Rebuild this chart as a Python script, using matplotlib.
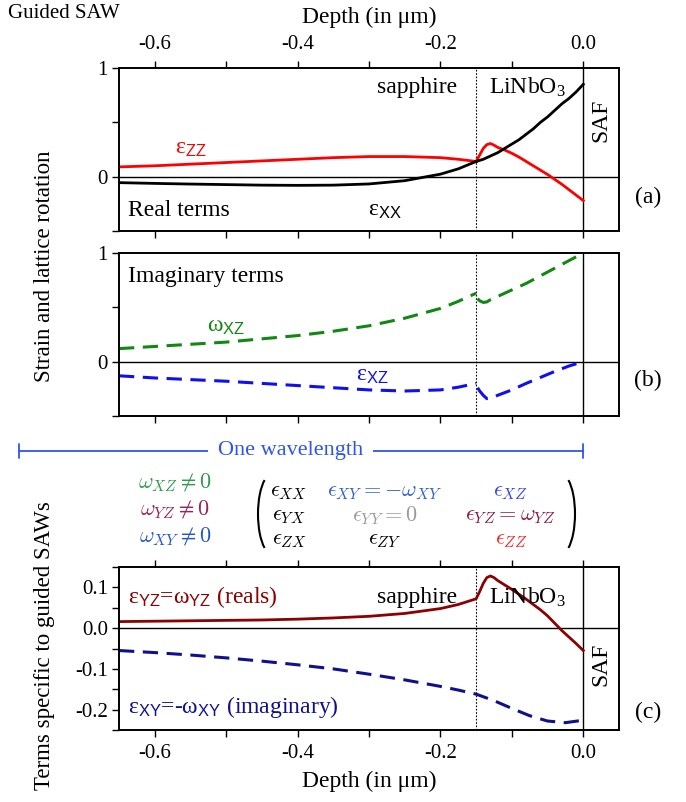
import matplotlib
matplotlib.use("Agg")
import numpy as np
import matplotlib.pyplot as plt
from matplotlib.patches import Arc
from matplotlib.ticker import FixedLocator
import matplotlib.transforms as mtransforms

plt.rcParams['font.family'] = ['Liberation Serif', 'DejaVu Serif']
plt.rcParams['mathtext.fontset'] = 'custom'
plt.rcParams['mathtext.rm'] = 'Liberation Serif'
plt.rcParams['mathtext.it'] = 'Liberation Serif:italic'
plt.rcParams['mathtext.sf'] = 'Liberation Sans'
plt.rcParams['font.size'] = 17

# ---- data (depth in um) ----
# panel (a) real terms
d_sap = [-0.65, -0.6, -0.55, -0.5, -0.45, -0.4, -0.35, -0.3, -0.25, -0.2, -0.175, -0.15]
d_lnb = [-0.15, -0.145, -0.14, -0.135, -0.13, -0.125, -0.12, -0.11, -0.1, -0.09, -0.08,
         -0.07, -0.06, -0.05, -0.04, -0.03, -0.02, -0.01, 0.0]
exx_sap = [-0.055, -0.062, -0.068, -0.073, -0.078, -0.08, -0.078, -0.067, -0.037, 0.023, 0.072, 0.14]
exx_lnb = [0.14, 0.15, 0.16, 0.175, 0.19, 0.205, 0.22, 0.26, 0.3, 0.34, 0.39,
           0.44, 0.5, 0.55, 0.61, 0.67, 0.72, 0.78, 0.85]
ezz_sap = [0.09, 0.1, 0.115, 0.13, 0.145, 0.16, 0.175, 0.185, 0.185, 0.175, 0.16, 0.14]
ezz_lnb = [0.14, 0.2, 0.26, 0.295, 0.305, 0.29, 0.27, 0.245, 0.215, 0.18, 0.14,
           0.1, 0.06, 0.02, -0.025, -0.07, -0.12, -0.17, -0.22]

# panel (b) imaginary terms
d_lnb_b = [-0.148, -0.145, -0.14, -0.135, -0.13, -0.12, -0.1, -0.08, -0.06, -0.04, -0.02, 0.0]
wxz_sap = [0.12, 0.14, 0.16, 0.18, 0.21, 0.24, 0.28, 0.33, 0.4, 0.49, 0.555, 0.63]
wxz_lnb = [0.58, 0.56, 0.545, 0.55, 0.57, 0.6, 0.66, 0.72, 0.79, 0.86, 0.93, 1.0]
exz_sap = [-0.13, -0.15, -0.165, -0.18, -0.2, -0.22, -0.24, -0.26, -0.27, -0.26, -0.235, -0.2]
exz_lnb = [-0.24, -0.27, -0.31, -0.34, -0.335, -0.31, -0.26, -0.2, -0.145, -0.09, -0.04, 0.0]

# panel (c) terms specific to guided SAWs
d_c = [-0.65, -0.6, -0.55, -0.5, -0.45, -0.4, -0.35, -0.3, -0.25, -0.2, -0.175, -0.15,
       -0.145, -0.14, -0.135, -0.13, -0.125, -0.12, -0.11, -0.1, -0.09, -0.08, -0.07,
       -0.06, -0.05, -0.04, -0.03, -0.02, -0.01, 0.0]
eyz = [0.016, 0.017, 0.018, 0.019, 0.02, 0.022, 0.025, 0.029, 0.036, 0.048, 0.058, 0.072,
       0.09, 0.11, 0.124, 0.128, 0.124, 0.117, 0.106, 0.095, 0.083, 0.071, 0.058,
       0.045, 0.03, 0.012, -0.006, -0.022, -0.038, -0.055]
d_xy = [-0.65, -0.6, -0.55, -0.5, -0.45, -0.4, -0.35, -0.3, -0.25, -0.2, -0.175, -0.15,
        -0.125, -0.1, -0.075, -0.05, -0.025, 0.0]
exy = [-0.055, -0.06, -0.066, -0.073, -0.081, -0.09, -0.1, -0.113, -0.127, -0.143, -0.152, -0.162,
       -0.178, -0.197, -0.215, -0.228, -0.232, -0.226]

interface = -0.15
DASH = (0, (5, 2.8))
TICK_FS = 15

fig = plt.figure(figsize=(6.86, 8.02), dpi=100)
W, H = 686, 802
L, AW, AH = 119 / W, 500 / W, 163 / H
ax_a = fig.add_axes([L, 1 - 231 / H, AW, AH])
ax_b = fig.add_axes([L, 1 - 416 / H, AW, AH])
ax_c = fig.add_axes([L, 1 - 730 / H, AW, AH])

fmt1 = plt.FuncFormatter(lambda v, p: f"{v:.1f}" if abs(v) > 1e-9 else "0.0")


def style(ax, top=False, bottom=False, labeltop=False, labelbottom=False):
    ax.set_xlim(-0.65, 0.05)
    ax.xaxis.set_major_locator(FixedLocator([-0.6, -0.4, -0.2, 0.0]))
    ax.xaxis.set_minor_locator(FixedLocator([-0.5, -0.3, -0.1]))
    ax.xaxis.set_major_formatter(fmt1)
    ax.tick_params(axis='x', which='both', direction='out', length=5, width=1,
                   top=top, bottom=bottom, labeltop=labeltop, labelbottom=labelbottom,
                   labelsize=TICK_FS, pad=5)
    ax.tick_params(axis='y', which='both', direction='out', length=5, width=1,
                   left=True, right=False, labelsize=TICK_FS, pad=3)
    for s in ax.spines.values():
        s.set_linewidth(1.4)
    ax.axhline(0, color='black', lw=1)
    ax.axvline(0, color='black', lw=1)
    ax.axvline(interface, color='black', lw=0.8, ls=(0, (1.5, 1.5)))


# ---- panel (a) ----
style(ax_a, top=True, bottom=True, labeltop=True)
ax_a.set_ylim(-0.5, 1)
ax_a.yaxis.set_major_locator(FixedLocator([0, 1]))
ax_a.yaxis.set_minor_locator(FixedLocator([-0.5, 0.5]))
ax_a.plot(d_sap, ezz_sap, color='#ff0000', lw=2)
ax_a.plot(d_lnb, ezz_lnb, color='#ff0000', lw=2)
ax_a.plot(d_sap, exx_sap, color='black', lw=2)
ax_a.plot(d_lnb, exx_lnb, color='black', lw=2)
ax_a.xaxis.set_label_position('top')
ax_a.set_xlabel('Depth (in μm)', fontsize=17, labelpad=9)
ax_a.text(-0.638, -0.31, 'Real terms', fontsize=17, va='center', ha='left')
ax_a.text(-0.278, -0.31, 'ε$_\\mathsf{XX}$', fontsize=17, va='center', ha='center')
ax_a.text(-0.55, 0.26, 'ε$_\\mathsf{ZZ}$', fontsize=17, va='center', ha='center', color='#ff0000')
ax_a.text(-0.177, 0.82, 'sapphire', fontsize=17, va='center', ha='right')
ax_a.text(-0.132, 0.82, 'LiNbO$_3$', fontsize=17, va='center', ha='left')
ax_a.text(0.025, 0.52, 'SAF', fontsize=17, va='center', ha='center', rotation=90)

# ---- panel (b) ----
style(ax_b, bottom=True)
ax_b.set_ylim(-0.5, 1)
ax_b.yaxis.set_major_locator(FixedLocator([0, 1]))
ax_b.yaxis.set_minor_locator(FixedLocator([-0.5, 0.5]))
ax_b.plot(d_sap, wxz_sap, color='#118811', lw=2.2, ls=DASH)
ax_b.plot(d_lnb_b, wxz_lnb, color='#118811', lw=2.2, ls=DASH)
ax_b.plot(d_sap, exz_sap, color='#1010ee', lw=2.2, ls=DASH)
ax_b.plot(d_lnb_b, exz_lnb, color='#1010ee', lw=2.2, ls=DASH)
ax_b.text(-0.638, 0.78, 'Imaginary terms', fontsize=17, va='center', ha='left')
ax_b.text(-0.5, 0.32, 'ω$_\\mathsf{XZ}$', fontsize=17, va='center', ha='center', color='#118811')
ax_b.text(-0.296, -0.13, 'ε$_\\mathsf{XZ}$', fontsize=17, va='center', ha='center', color='#1010ee')

# ---- panel (c) ----
style(ax_c, top=True, bottom=True, labelbottom=True)
ax_c.set_ylim(-0.25, 0.15)
ax_c.yaxis.set_major_locator(FixedLocator([-0.2, -0.1, 0.0, 0.1]))
ax_c.yaxis.set_minor_locator(FixedLocator([-0.25, -0.15, -0.05, 0.05, 0.15]))
ax_c.yaxis.set_major_formatter(fmt1)
ax_c.plot(d_c, eyz, color='#8b0000', lw=2)
ax_c.plot(d_xy, exy, color='#10108f', lw=2.2, ls=DASH)
ax_c.set_xlabel('Depth (in μm)', fontsize=17, labelpad=6)
ax_c.text(-0.638, 0.076, 'ε$_\\mathsf{YZ}$=ω$_\\mathsf{YZ}$ (reals)', fontsize=17,
          va='center', ha='left', color='#8b0000')
ax_c.text(-0.638, -0.194, 'ε$_\\mathsf{XY}$=-ω$_\\mathsf{XY}$ (imaginary)', fontsize=17,
          va='center', ha='left', color='#10108f')
ax_c.text(-0.177, 0.076, 'sapphire', fontsize=17, va='center', ha='right')
ax_c.text(-0.132, 0.076, 'LiNbO$_3$', fontsize=17, va='center', ha='left')
ax_c.text(0.025, -0.09, 'SAF', fontsize=17, va='center', ha='center', rotation=90)

# ---- figure texts ----
fig.text(8 / W, 1 - 13 / H, 'Guided SAW', fontsize=15, va='center', ha='left')
fig.text(45 / W, 1 - 266 / H, 'Strain and lattice rotation', fontsize=16.5,
         va='center', ha='center', rotation=90)
fig.text(45 / W, 1 - 646 / H, 'Terms specific to guided SAWs', fontsize=16.5,
         va='center', ha='center', rotation=90)
for lab, y in [('(a)', 197), ('(b)', 380), ('(c)', 712)]:
    fig.text(648 / W, 1 - y / H, lab, fontsize=17, va='center', ha='center')

# one wavelength bar
wl_col = '#2f55f0'
tr = mtransforms.blended_transform_factory(ax_c.transData, fig.transFigure)
y_wl = 1 - 451 / H
ax_c.annotate('', xy=(-0.79, y_wl), xytext=(0.0, y_wl), xycoords=tr, textcoords=tr,
              arrowprops=dict(arrowstyle='|-|, widthA=0.3, widthB=0.3', color=wl_col, lw=1.3,
                              shrinkA=0, shrinkB=0), annotation_clip=False)
ax_c.text(-0.41, y_wl, 'One wavelength', transform=tr, fontsize=16, color=wl_col,
          va='center', ha='center', bbox=dict(facecolor='white', edgecolor='none', pad=7),
          clip_on=False)

# tensor matrix
mfs = 16
left_col = [(r'$\omega_{XZ} \neq 0$', '#2e9a4a', 483),
            (r'$\omega_{YZ} \neq 0$', '#99225a', 510),
            (r'$\omega_{XY} \neq 0$', '#2255cc', 537)]
for s, c, y in left_col:
    fig.text(175 / W, 1 - y / H, s, fontsize=mfs, color=c, ha='center', va='center',
             math_fontfamily='cm')

cells = [(r'$\epsilon_{XX}$', 'black', 289, 493),
         (r'$\epsilon_{XY} = -\omega_{XY}$', '#3060d0', 385, 493),
         (r'$\epsilon_{XZ}$', '#3344ee', 511, 493),
         (r'$\epsilon_{YX}$', 'black', 289, 516),
         (r'$\epsilon_{YY} = 0$', '#9a9a9a', 385, 516),
         (r'$\epsilon_{YZ} = \omega_{YZ}$', '#8b1a4a', 511, 516),
         (r'$\epsilon_{ZX}$', 'black', 289, 540),
         (r'$\epsilon_{ZY}$', 'black', 385, 540),
         (r'$\epsilon_{ZZ}$', '#ff2020', 511, 540)]
for s, c, x, y in cells:
    fig.text(x / W, 1 - y / H, s, fontsize=mfs, color=c, ha='center', va='center',
             math_fontfamily='cm')

# parentheses (Arc angles are polar, convert from the wanted parametric span)
pw, ph = 28 / W, 80 / H
p = np.radians(58)
th = np.degrees(np.arctan2(np.sin(p) * ph, np.cos(p) * pw))
for cx, t1, t2 in [(272, 180 - th, 180 + th), (561, -th, th)]:
    fig.add_artist(Arc((cx / W, 1 - 514 / H), pw, ph, theta1=t1, theta2=t2,
                       transform=fig.transFigure, color='black', lw=1.5))

fig.savefig('out.png', dpi=100)
